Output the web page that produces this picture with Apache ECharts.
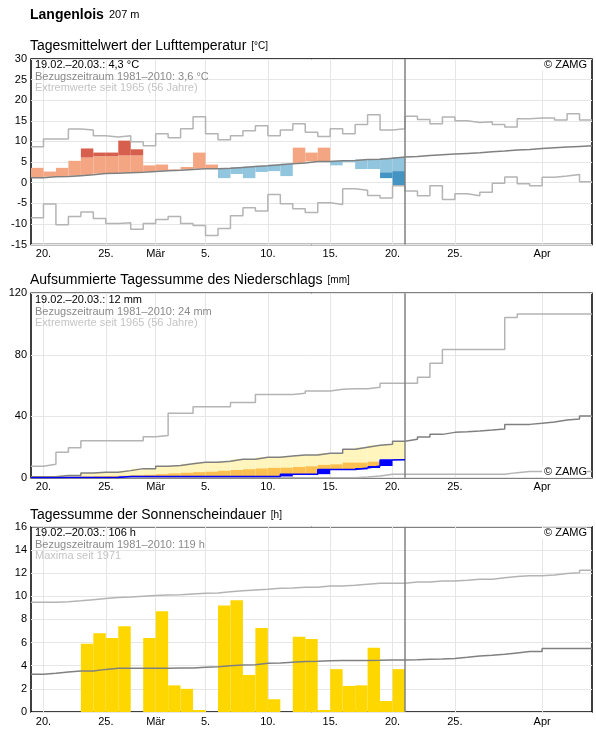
<!DOCTYPE html>
<html><head><meta charset="utf-8">
<script src="https://cdn.jsdelivr.net/npm/echarts@6/dist/echarts.min.js"></script>
<style>html,body{margin:0;padding:0;background:#fff}#c{width:596px;height:729px}</style>
</head><body><div id="c"></div>
<script>
// x = day index since 19 Feb (day 0 = 19.02., day 29 = 20.03., day 44 = 04.04.)
const tickDays = [1, 6, 10, 14, 19, 24, 29, 34, 41];
const tickLabels = ['20.', '25.', 'Mär', '5.', '10.', '15.', '20.', '25.', 'Apr'];
const obsEndDay = 30;

// Temperature (°C)
const tempMax = [8.7, 10.6, 10.6, 13.0, 12.8, 11.4, 11.1, 11.4, 9.9, 8.95, 11.85, 10.9, 13.1, 16.0, 11.85, 10.4, 11.4, 12.6, 13.8, 11.4, 12.8, 14.3, 12.25, 11.2, 13.05, 11.85, 14.1, 16.45, 12.8, 13.05, 16.1, 15.3, 14.3, 15.9, 15.0, 14.6, 14.8, 14.1, 13.5, 15.5, 15.7, 15.7, 15.2, 16.7, 15.2];
const tempMin = [-8.5, -5.2, -10.2, -8.2, -7.1, -8.7, -9.9, -9.7, -11.3, -9.9, -8.95, -8.2, -9.9, -10.4, -12.8, -11.1, -8.0, -6.1, -6.9, -2.9, -5.1, -6.3, -7.25, -4.85, -5.3, -1.45, -1.85, -3.1, -3.7, -0.75, -2.0, -3.15, -0.75, -4.1, -2.7, -3.15, -2.3, -0.15, 1.35, -0.25, -0.75, 1.3, 1.6, 2.0, 0.25];
const tempMean = [1.2, 1.45, 1.5, 1.7, 1.9, 2.2, 2.3, 2.4, 2.5, 2.7, 2.9, 3.0, 3.2, 3.4, 3.4, 3.5, 3.7, 3.9, 4.1, 4.35, 4.6, 4.8, 5.15, 5.15, 5.3, 5.4, 5.6, 5.7, 5.95, 6.2, 6.36, 6.6, 6.77, 6.93, 7.09, 7.25, 7.5, 7.66, 7.9, 8.06, 8.3, 8.47, 8.63, 8.79, 8.95];
const tempObs = [3.6, 2.7, 3.6, 5.3, 8.3, 7.3, 7.3, 10.2, 8.1, 4.2, 4.4, 3.2, 3.8, 7.3, 4.4, 1.1, 2.1, 1.1, 2.6, 2.8, 1.6, 8.5, 7.3, 8.5, 4.2, 5.0, 3.3, 3.3, 1.1, -0.65];
const tempStrong = [null, null, null, null, 6.1, 6.4, 6.4, 6.6, 6.6, null, null, null, null, null, null, null, null, null, null, null, null, null, null, null, null, null, null, null, 2.5, 2.8];

// Precipitation, cumulative (mm)
const precMax = [7.4, 8.7, 16.5, 19.5, 24.1, 24.1, 24.1, 24.1, 24.1, 26.7, 27.5, 41.9, 41.9, 46.2, 46.2, 46.2, 49, 49, 54.2, 54.2, 54.2, 54.9, 56.4, 56.4, 57.5, 57.9, 57.9, 58.8, 61.4, 61.4, 61.4, 65.3, 74.4, 83.5, 83.5, 83.5, 83.5, 83.5, 104.3, 106.5, 106.5, 106.5, 106.5, 106.5, 106.5];
const precMean = [0.65, 0.65, 1.5, 1.5, 3.0, 3.5, 3.5, 4.6, 5.9, 5.9, 7.4, 8.0, 9.1, 10.0, 10.0, 10.7, 12.0, 12.0, 13.3, 13.3, 14.1, 14.8, 14.8, 15.9, 15.9, 18.5, 19.8, 21.1, 21.7, 23.7, 25.0, 26.5, 28.2, 29.5, 29.9, 30.4, 31.0, 31.7, 34.7, 34.7, 35.4, 36.2, 37.5, 38.2, 40.1];
const precMin = [0, 0, 0, 0, 0, 0, 0, 0, 0, 0, 0, 0, 0, 0, 0, 0, 0, 0, 0, 0, 0, 0, 0, 0, 0, 0, 0.5, 1.1, 2.2, 2.2, 2.2, 2.2, 2.2, 2.2, 2.2, 2.2, 2.2, 2.2, 3.3, 4.0, 4.0, 4.0, 4.0, 4.0, 4.0];
const precObs = [0, 0, 0.2, 0.2, 0.2, 0.2, 0.2, 0.8, 0.8, 0.8, 0.8, 0.8, 0.8, 0.8, 0.8, 0.8, 0.8, 0.8, 0.8, 0.8, 2.3, 2.3, 2.3, 5.4, 5.4, 5.4, 6.3, 7.6, 11.5, 11.7];
const precDry = [0.3, 0.3, 0.5, 0.6, 0.8, 1.0, 1.1, 1.3, 1.6, 1.9, 2.3, 2.8, 3.2, 3.6, 3.9, 4.5, 5.0, 5.5, 6.0, 6.4, 6.5, 7.0, 7.4, 8.3, 8.7, 9.8, 9.8, 10.4, 11.0, 12.2];

// Sunshine (h)
const sunMax = [9.47, 9.47, 9.53, 9.6, 9.7, 9.8, 9.88, 9.93, 9.99, 10.05, 10.1, 10.13, 10.19, 10.25, 10.28, 10.39, 10.48, 10.54, 10.6, 10.68, 10.7, 10.77, 10.77, 10.88, 10.88, 10.94, 11.03, 11.11, 11.11, 11.11, 11.23, 11.23, 11.31, 11.31, 11.37, 11.46, 11.46, 11.6, 11.69, 11.77, 11.77, 11.83, 11.95, 12.03, 12.24];
const sunMean = [3.25, 3.34, 3.45, 3.54, 3.54, 3.68, 3.77, 3.77, 3.77, 3.77, 3.77, 3.8, 3.8, 3.86, 3.9, 3.99, 4.05, 4.08, 4.2, 4.23, 4.3, 4.35, 4.38, 4.42, 4.44, 4.44, 4.45, 4.46, 4.5, 4.5, 4.52, 4.55, 4.58, 4.62, 4.72, 4.84, 4.9, 4.98, 5.1, 5.22, 5.22, 5.48, 5.48, 5.48, 5.48];
const sunObs = [0, 0, 0, 0, 5.9, 6.8, 6.4, 7.4, 0, 6.4, 8.7, 2.3, 2.0, 0.17, 0, 9.2, 9.65, 3.2, 7.25, 1.1, 0, 6.5, 6.3, 0.17, 3.7, 2.25, 2.3, 5.55, 0.95, 3.7];

const stationTitle = ['Langenlois', '207 m'];
const panelTitles = [['Tagesmittelwert der Lufttemperatur', '[°C]'], ['Aufsummierte Tagessumme des Niederschlags', '[mm]'], ['Tagessumme der Sonnenscheindauer', '[h]']];
const infoLines = [
  ['19.02.–20.03.: 4,3 °C', 'Bezugszeitraum 1981–2010: 3,6 °C', 'Extremwerte seit 1965 (56 Jahre)'],
  ['19.02.–20.03.: 12 mm', 'Bezugszeitraum 1981–2010: 24 mm', 'Extremwerte seit 1965 (56 Jahre)'],
  ['19.02.–20.03.: 106 h', 'Bezugszeitraum 1981–2010: 119 h', 'Maxima seit 1971']
];

const FONT = 'Liberation Sans, Arial, sans-serif';
const GRID_C = '#e6e6e6';
const EXT_C = '#b4b4b4';
const MEAN_C = '#808080';

function stepData(arr) {
  const out = arr.map((v, i) => [i, v]);
  out.push([arr.length, arr[arr.length - 1]]);
  return out;
}
function rectBetween(api, d, y0, y1, color) {
  const p0 = api.coord([d, y0]);
  const p1 = api.coord([d + 1, y1]);
  return {
    type: 'rect',
    shape: { x: p0[0], y: Math.min(p0[1], p1[1]), width: p1[0] - p0[0], height: Math.abs(p1[1] - p0[1]) },
    style: { fill: color }
  };
}

const tempItems = tempObs.map((o, i) => [i, tempMean[i], o, tempStrong[i] == null ? o : tempStrong[i]]);
const precItems = precObs.map((o, i) => [i, o, i > 0 ? precObs[i - 1] : 0, precDry[i], precMean[i]]);
const sunItems = sunObs.map((v, i) => [i, v]);

function lineSeries(idx, arr, color, extra) {
  return Object.assign({
    type: 'line', xAxisIndex: idx, yAxisIndex: idx, data: stepData(arr), step: 'end',
    symbol: 'none', silent: true, z: 4,
    lineStyle: { color: color, width: 1.5 }
  }, extra || {});
}
const nowLine = {
  silent: true, symbol: 'none', label: { show: false },
  lineStyle: { color: MEAN_C, width: 1.5, type: 'solid' },
  data: [{ xAxis: obsEndDay }]
};

const grids = [
  { left: 31, right: 4, top: 59, height: 185.5 },
  { left: 31, right: 4, top: 293.3, height: 184.4 },
  { left: 31, right: 4, top: 526.7, height: 185.3 }
].map(g => Object.assign(g, { show: true, borderColor: '#000', borderWidth: 1.5, backgroundColor: 'transparent', containLabel: false }));

const xAxes = [0, 1, 2].map(i => ({
  type: 'value', gridIndex: i, min: 0, max: 45,
  axisLine: { show: false },
  axisTick: { show: false, customValues: tickDays },
  axisLabel: {
    customValues: tickDays, margin: 4, color: '#000', fontSize: 11, fontFamily: FONT,
    formatter: v => tickLabels[tickDays.indexOf(v)]
  },
  splitLine: { show: true, lineStyle: { color: GRID_C, width: 1 } }
}));
const yCfg = [[-15, 30, 5], [0, 120, 40], [0, 16, 2]];
const yAxes = yCfg.map((c, i) => ({
  type: 'value', gridIndex: i, min: c[0], max: c[1], interval: c[2],
  axisLine: { show: false }, axisTick: { show: false },
  axisLabel: { margin: 4, color: '#000', fontSize: 11, fontFamily: FONT },
  splitLine: { show: true, lineStyle: { color: GRID_C, width: 1 } }
}));

const N = 'normal';
const titleTops = [37, 271.5, 505.8];
const infoTops = [59.5, 294.5, 527.5];
const zamgTops = [59.5, 466.5, 527.5];
const titles = [{
  left: 30, top: 6,
  text: '{a|' + stationTitle[0] + '} {b|' + stationTitle[1] + '}',
  textStyle: { fontWeight: N, rich: { a: { fontSize: 14, fontWeight: 'bold', fontFamily: FONT, color: '#000' }, b: { fontSize: 11, fontWeight: N, fontFamily: FONT, color: '#000' } } },
  padding: 0
}];
panelTitles.forEach((t, i) => {
  titles.push({
    left: 30, top: titleTops[i], padding: 0,
    text: '{a|' + t[0] + '} {b|' + t[1] + '}',
    textStyle: { fontWeight: N, rich: { a: { fontSize: 14, fontWeight: N, fontFamily: FONT, color: '#000' }, b: { fontSize: 10, fontWeight: N, fontFamily: FONT, color: '#000' } } }
  });
  titles.push({
    left: 35, top: infoTops[i], padding: 0,
    text: '{k|' + infoLines[i][0] + '}\n{g|' + infoLines[i][1] + '}\n{l|' + infoLines[i][2] + '}',
    textStyle: { fontWeight: N, rich: {
      k: { fontSize: 11, fontWeight: N, fontFamily: FONT, color: '#000', lineHeight: 11.5 },
      g: { fontSize: 11, fontWeight: N, fontFamily: FONT, color: '#8a8a8a', lineHeight: 11.5 },
      l: { fontSize: 11, fontWeight: N, fontFamily: FONT, color: '#c4c4c4', lineHeight: 11.5 }
    } }
  });
  titles.push({
    right: 9, top: zamgTops[i], padding: [0, 0, 0, 2], backgroundColor: '#fff',
    text: '© ZAMG', textStyle: { fontSize: 11, fontWeight: N, fontFamily: FONT, color: '#000' }
  });
});

const series = [
  // Temperature
  {
    type: 'custom', xAxisIndex: 0, yAxisIndex: 0, data: tempItems, silent: true, z: 2,
    renderItem: (params, api) => {
      const d = api.value(0), mean = api.value(1), obs = api.value(2), strong = api.value(3);
      const ch = [];
      if (obs >= mean) {
        ch.push(rectBetween(api, d, mean, strong, '#f4a582'));
        if (obs > strong) ch.push(rectBetween(api, d, strong, obs, '#d6604d'));
      } else {
        ch.push(rectBetween(api, d, mean, strong, '#92c5de'));
        if (obs < strong) ch.push(rectBetween(api, d, strong, obs, '#4393c3'));
      }
      return { type: 'group', children: ch };
    }
  },
  lineSeries(0, tempMax, EXT_C),
  lineSeries(0, tempMin, EXT_C),
  lineSeries(0, tempMean, MEAN_C, { markLine: nowLine }),
  // Precipitation
  {
    type: 'custom', xAxisIndex: 1, yAxisIndex: 1, data: precItems, silent: true, z: 2,
    renderItem: (params, api) => {
      const d = api.value(0), obs = api.value(1), prev = api.value(2), dry = api.value(3), mean = api.value(4);
      const ch = [];
      if (mean > obs) ch.push(rectBetween(api, d, obs, mean, '#fff5bd'));
      const dryTop = Math.min(dry, mean);
      if (dryTop > obs) ch.push(rectBetween(api, d, obs, dryTop, '#fdbf4f'));
      if (obs > prev) ch.push(rectBetween(api, d, prev, obs, '#0000ff'));
      return { type: 'group', children: ch };
    }
  },
  lineSeries(1, precMax, EXT_C),
  lineSeries(1, precMin, EXT_C),
  lineSeries(1, precMean, MEAN_C, { markLine: nowLine }),
  lineSeries(1, precObs, '#0000ff', { z: 5 }),
  // Sunshine
  {
    type: 'custom', xAxisIndex: 2, yAxisIndex: 2, data: sunItems, silent: true, z: 2,
    renderItem: (params, api) => {
      const d = api.value(0), v = api.value(1);
      if (!(v > 0)) return null;
      return rectBetween(api, d, 0, v, '#ffd700');
    }
  },
  lineSeries(2, sunMax, EXT_C),
  lineSeries(2, sunMean, MEAN_C, { markLine: nowLine })
];

const chart = echarts.init(document.getElementById('c'), null, { renderer: 'canvas' });
chart.setOption({
  animation: false,
  backgroundColor: '#fff',
  textStyle: { fontFamily: FONT },
  title: titles,
  grid: grids,
  xAxis: xAxes,
  yAxis: yAxes,
  series: series
});
</script>
</body></html>
